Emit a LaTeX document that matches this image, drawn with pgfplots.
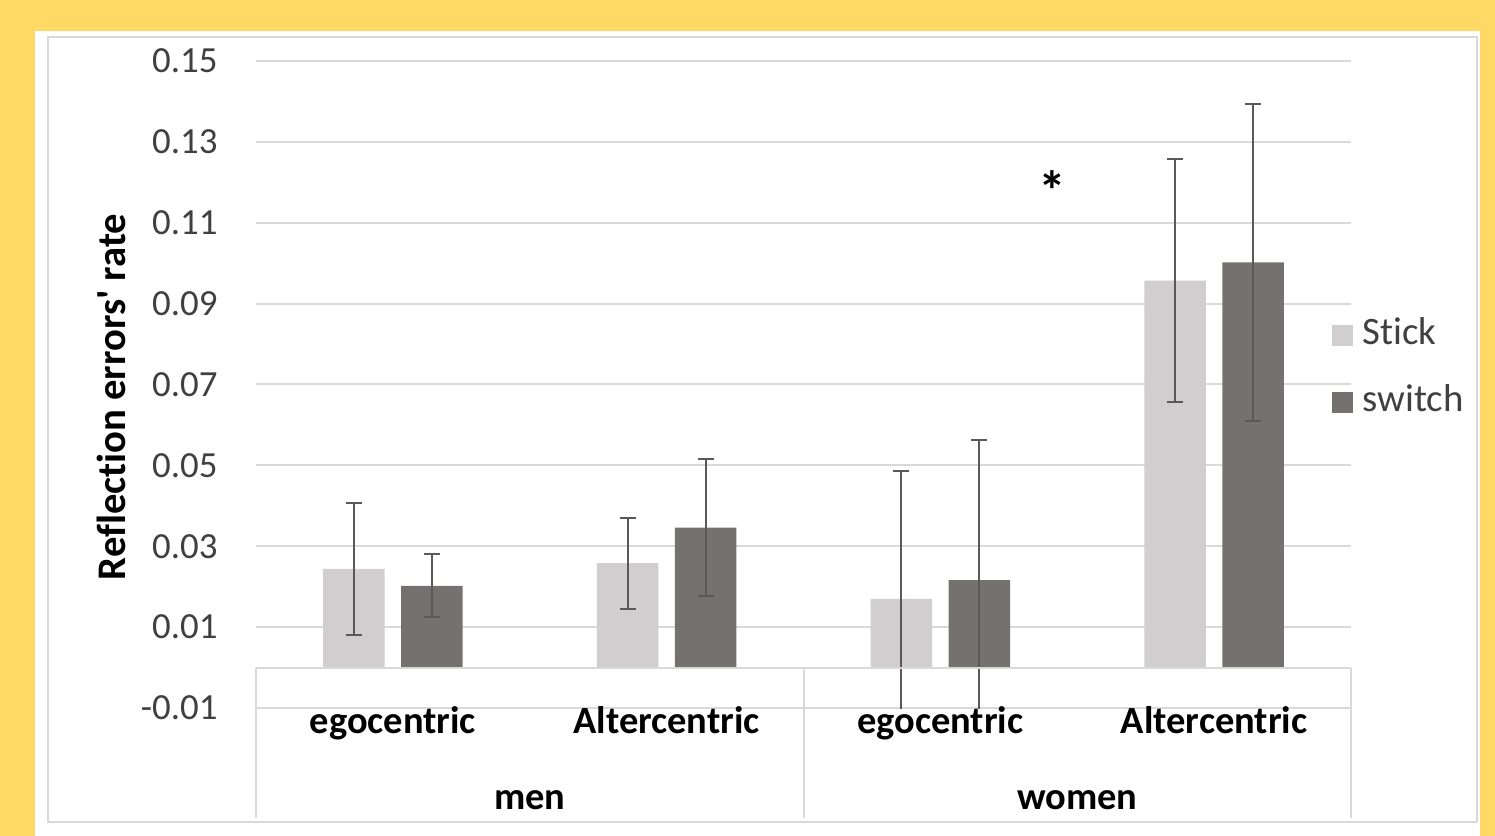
\documentclass[border=0pt]{standalone}
\usepackage{fontspec}
\setmainfont{Carlito}[Ligatures={TeX,NoCommon}]
\usepackage{pgfplots}
\pgfplotsset{compat=1.18}
\definecolor{bgyellow}{HTML}{FFD966}
\definecolor{panelborder}{HTML}{D9D9D9}
\definecolor{gridc}{HTML}{D9D9D9}
\definecolor{stickc}{HTML}{D0CECE}
\definecolor{switchc}{HTML}{767171}
\definecolor{errc}{HTML}{595959}
\definecolor{textc}{HTML}{404040}
\begin{document}
\begin{tikzpicture}
\fill[bgyellow] (-128bp,-64bp) rectangle (619.5bp,354bp);
\fill[white] (-110.5bp,-64bp) rectangle (612bp,338.5bp);
\draw[panelborder, line width=1bp] (-104bp,-57bp) rectangle (610.5bp,335.5bp);
\begin{axis}[
  at={(0,0)}, anchor=south west,
  scale only axis, width=547.5bp, height=323.5bp,
  xmin=-0.5, xmax=3.5, ymin=-0.01, ymax=0.15,
  ybar=8.2bp, bar width=30.8bp,
  xtick=\empty,
  ytick={-0.01,0.01,0.03,0.05,0.07,0.09,0.11,0.13,0.15},
  yticklabels={-0.01,0.01,0.03,0.05,0.07,0.09,0.11,0.13,0.15},
  ymajorgrids, grid style={gridc, line width=1bp},
  axis line style={draw=none},
  major tick length=0pt,
  yticklabel style={font=\fontsize{18.5}{20}\selectfont, text=textc, anchor=east, inner sep=0pt, xshift=-19bp},
  clip mode=individual,
  legend style={draw=none, fill=none, at={(axis description cs:0.9826,0.5232)}, anchor=west,
    font=\fontsize{19.5}{21}\selectfont, text=textc, inner sep=0pt, row sep=14.5bp,
    nodes={inner sep=1bp, text height=13bp, text depth=4bp}},
  legend cell align=left,
  legend image code/.code={\fill[#1] (0bp,-5.25bp) rectangle (10.5bp,5.25bp); \path (14bp,0bp);},
]
\addplot[fill=stickc, draw=none,
  error bars/.cd, y dir=both, y explicit, error mark=|,
  error bar style={draw=errc, line width=1bp},
  error mark options={draw=errc, line width=1bp, mark size=4bp}]
  coordinates {
  (0,0.0244) +- (0,0.0164)
  (1,0.0258) +- (0,0.0112)
  (2,0.0170) +- (0,0.0315)
  (3,0.0957) +- (0,0.0301)
  };
\addplot[fill=switchc, draw=none,
  error bars/.cd, y dir=both, y explicit, error mark=|,
  error bar style={draw=errc, line width=1bp},
  error mark options={draw=errc, line width=1bp, mark size=4bp}]
  coordinates {
  (0,0.0202) +- (0,0.0078)
  (1,0.0346) +- (0,0.0169)
  (2,0.0216) +- (0,0.0347)
  (3,0.1002) +- (0,0.0392)
  };
\legend{Stick, switch}
% category axis
\draw[gridc, line width=1bp] (axis cs:-0.5,0) -- (axis cs:3.5,0);
\draw[gridc, line width=1bp] (axis cs:-0.5,0) -- (axis cs:-0.5,-0.0372);
\draw[gridc, line width=1bp] (axis cs:1.5,0) -- (axis cs:1.5,-0.0372);
\draw[gridc, line width=1bp] (axis cs:3.5,0) -- (axis cs:3.5,-0.0372);
\node[anchor=base, font=\bfseries\fontsize{19.3}{21}\selectfont] at (axis cs:0,-0.0164) {egocentric};
\node[anchor=base, font=\bfseries\fontsize{19.3}{21}\selectfont] at (axis cs:1,-0.0164) {Altercentric};
\node[anchor=base, font=\bfseries\fontsize{19.3}{21}\selectfont] at (axis cs:2,-0.0164) {egocentric};
\node[anchor=base, font=\bfseries\fontsize{19.3}{21}\selectfont] at (axis cs:3,-0.0164) {Altercentric};
\node[anchor=base, font=\bfseries\fontsize{19.3}{21}\selectfont] at (axis cs:0.5,-0.0352) {men};
\node[anchor=base, font=\bfseries\fontsize{19.3}{21}\selectfont] at (axis cs:2.5,-0.0352) {women};
\node[font=\bfseries\fontsize{28}{30}\selectfont] at (axis cs:2.411,0.1179) {*};
\node[rotate=90, font=\bfseries\fontsize{20.4}{22}\selectfont] at (axis description cs:-0.1324,0.4807) {Reflection errors\textquotesingle{} rate};
\end{axis}
\pgfresetboundingbox
\useasboundingbox (-128bp,-64bp) rectangle (619.5bp,354bp);
\end{tikzpicture}
\end{document}
